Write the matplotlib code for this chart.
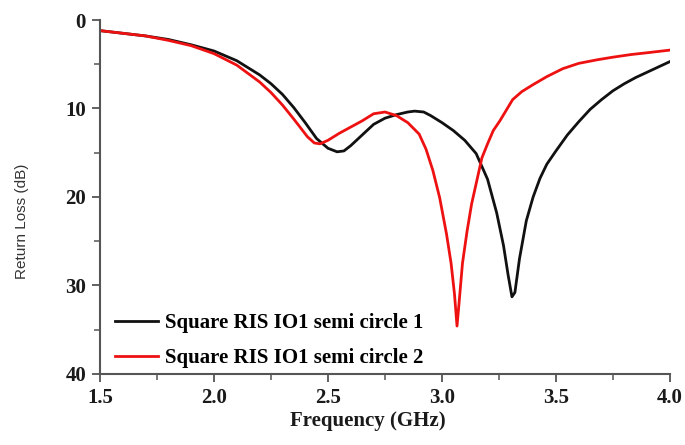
import matplotlib
matplotlib.use("Agg")
import matplotlib.pyplot as plt
from matplotlib.ticker import MultipleLocator, FormatStrFormatter

# Return loss (GHz, dB)
freq_1 = [1.5, 1.6, 1.7, 1.8, 1.9, 2.0, 2.1, 2.2, 2.25, 2.3, 2.35, 2.4, 2.45,
          2.5, 2.54, 2.57, 2.6, 2.65, 2.7, 2.75, 2.8, 2.85, 2.88, 2.92, 2.95,
          3.0, 3.05, 3.1, 3.15, 3.2, 3.24, 3.27, 3.29, 3.307, 3.32, 3.34, 3.37,
          3.4, 3.43, 3.46, 3.5, 3.55, 3.6, 3.65, 3.7, 3.75, 3.8, 3.85, 3.9,
          3.95, 4.0]
loss_1 = [1.2, 1.5, 1.8, 2.2, 2.8, 3.5, 4.6, 6.2, 7.2, 8.4, 9.9, 11.6, 13.4,
          14.5, 14.9, 14.8, 14.2, 13.0, 11.8, 11.1, 10.7, 10.4, 10.3, 10.4, 10.8,
          11.6, 12.5, 13.6, 15.1, 18.0, 21.8, 25.5, 28.8, 31.3, 30.8, 27.0, 22.7,
          20.0, 17.9, 16.3, 14.8, 13.0, 11.5, 10.1, 9.0, 8.0, 7.2, 6.5, 5.9,
          5.3, 4.7]

freq_2 = [1.5, 1.6, 1.7, 1.8, 1.9, 2.0, 2.1, 2.2, 2.25, 2.3, 2.35, 2.41, 2.44,
          2.465, 2.5, 2.55, 2.6, 2.65, 2.7, 2.75, 2.8, 2.85, 2.9, 2.93, 2.96,
          2.99, 3.02, 3.04, 3.055, 3.066, 3.075, 3.09, 3.11, 3.13, 3.15, 3.175,
          3.2, 3.225, 3.254, 3.31, 3.35, 3.4, 3.46, 3.53, 3.6, 3.68, 3.75,
          3.83, 3.9, 4.0]
loss_2 = [1.2, 1.5, 1.8, 2.3, 2.9, 3.8, 5.1, 7.0, 8.2, 9.6, 11.2, 13.2, 13.9,
          14.0, 13.6, 12.8, 12.1, 11.4, 10.6, 10.4, 10.8, 11.6, 12.9, 14.6, 17.0,
          20.1, 24.2, 27.5, 31.0, 34.6, 32.0, 27.5, 23.9, 20.8, 18.5, 15.6,
          14.0, 12.5, 11.4, 9.0, 8.1, 7.3, 6.4, 5.5, 4.9, 4.5, 4.2,
          3.9, 3.7, 3.4]

labels = ["Square RIS IO1 semi circle 1", "Square RIS IO1 semi circle 2"]

serif_bold = {"family": "Liberation Serif", "weight": "bold"}

fig = plt.figure(figsize=(6.85, 4.45), dpi=100)
ax = fig.add_axes([0.146, 0.16, 0.832, 0.795])

ax.plot(freq_1, loss_1, color="#111111", lw=2.0, label=labels[0])
ax.plot(freq_2, loss_2, color="#ee1111", lw=2.0, label=labels[1])

ax.set_xlim(1.5, 4.0)
ax.set_ylim(40, 0)
ax.xaxis.set_major_locator(MultipleLocator(0.5))
ax.xaxis.set_minor_locator(MultipleLocator(0.25))
ax.xaxis.set_major_formatter(FormatStrFormatter("%.1f"))
ax.yaxis.set_major_locator(MultipleLocator(10))
ax.yaxis.set_minor_locator(MultipleLocator(5))

for side in ["top", "right"]:
    ax.spines[side].set_visible(False)
for side in ["left", "bottom"]:
    ax.spines[side].set_color("#555555")
    ax.spines[side].set_linewidth(1.5)

ax.tick_params(which="major", length=6, width=1.3, color="#555555", pad=4)
ax.tick_params(which="minor", length=4, width=1.1, color="#555555")
for lbl in ax.get_xticklabels() + ax.get_yticklabels():
    lbl.set_fontfamily("Liberation Serif")
    lbl.set_fontweight("bold")
    lbl.set_fontsize(15)
    lbl.set_color("#1a1a1a")

ax.set_xlabel("Frequency (GHz)", fontsize=15, color="#1a1a1a", **serif_bold)
ax.xaxis.set_label_coords(0.47, -0.105)
ax.set_ylabel("Return Loss (dB)", fontsize=11, family="Liberation Sans",
              color="#333333")
ax.yaxis.set_label_coords(-0.125, 0.43)

ax.legend(loc="lower left", bbox_to_anchor=(0.0, -0.025), frameon=False,
          prop={"family": "Liberation Serif", "weight": "bold", "size": 15},
          handlelength=2.1, handletextpad=0.3, labelspacing=0.7,
          borderaxespad=0.3)

fig.savefig("out.png", dpi=100)
